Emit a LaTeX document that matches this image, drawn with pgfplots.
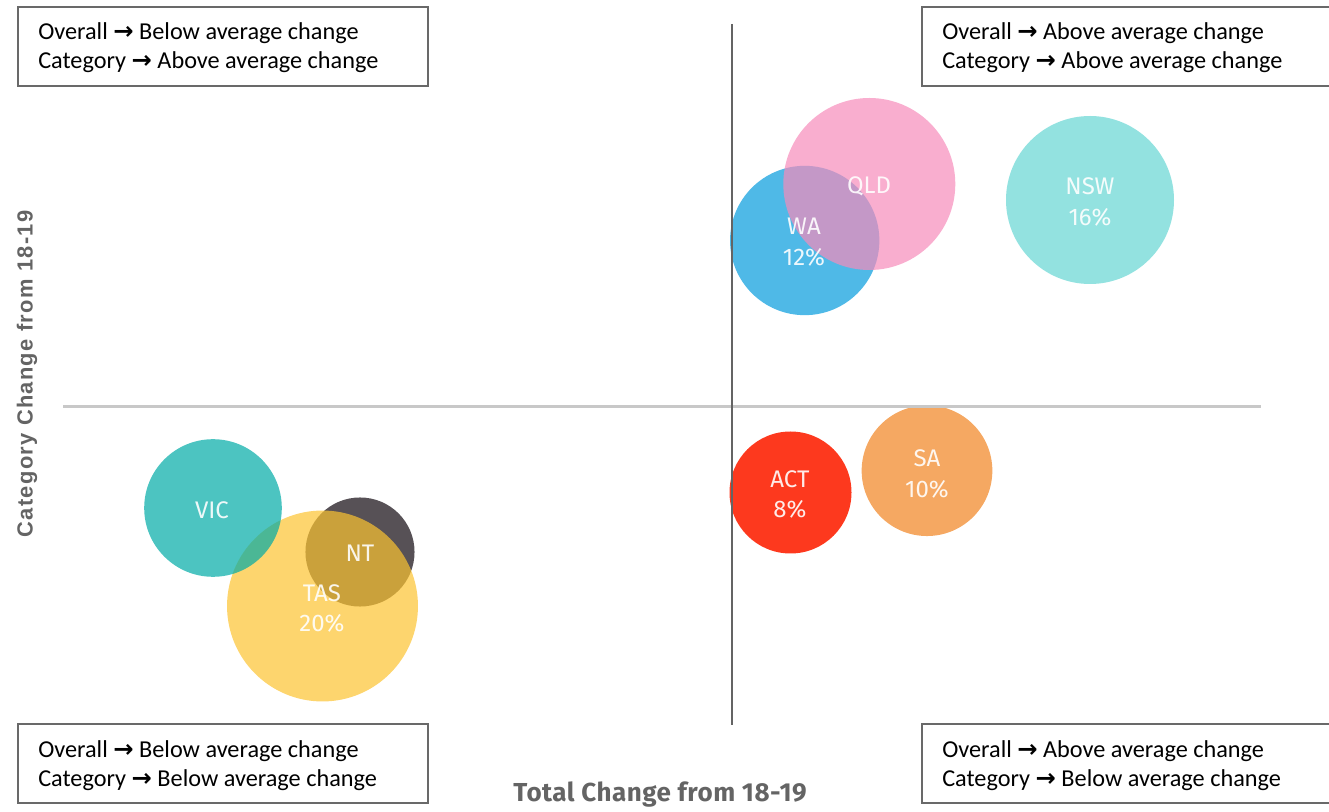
\documentclass[border=0pt]{standalone}
\usepackage{pgfplots}
\pgfplotsset{compat=1.18}
\usepackage{fontspec}
\setmainfont{Carlito}
\newfontfamily\dinfont{Fira Sans}
\newfontfamily\dinbold[LetterSpace=2]{Fira Sans}
\newfontfamily\arialfont[LetterSpace=6]{Liberation Sans}
\newfontfamily\arrowfont{DejaVu Sans}
\definecolor{ntc}{RGB}{87,81,86}
\definecolor{tasc}{RGB}{252,195,48}
\definecolor{vicc}{RGB}{0,171,166}
\definecolor{wac}{RGB}{4,155,221}
\definecolor{qldc}{RGB}{246,139,186}
\definecolor{nswc}{RGB}{147,226,224}
\definecolor{sac}{RGB}{245,168,98}
\definecolor{actc}{RGB}{253,57,30}
\definecolor{vline}{RGB}{100,100,100}
\definecolor{hline}{RGB}{200,200,200}
\definecolor{boxc}{RGB}{105,105,105}
\definecolor{labc}{RGB}{100,100,100}
\newcommand{\arr}{{\arrowfont\bfseries →}}
\begin{document}
\begin{tikzpicture}
\begin{axis}[
  x=0.75pt, y=0.75pt,
  xmin=0, xmax=1329, ymin=0, ymax=811,
  y dir=reverse,
  enlargelimits=false,
  hide axis, clip=false,
  set layers, clip marker paths=true,
]
% bubbles: (x, y) centre in chart units, mark size = bubble radius
\addplot[only marks, mark=*, mark size=40.9pt, color=ntc, mark options={draw opacity=0, fill=ntc}] coordinates {(360,552)};
\addplot[only marks, mark=*, mark size=71.6pt, color=tasc, mark options={draw opacity=0, fill=tasc, fill opacity=0.7}] coordinates {(322.5,606)};
\addplot[only marks, mark=*, mark size=51.6pt, color=vicc, mark options={draw opacity=0, fill=vicc, fill opacity=0.7}] coordinates {(213,508)};
\addplot[only marks, mark=*, mark size=56pt, color=wac, mark options={draw opacity=0, fill=wac, fill opacity=0.7}] coordinates {(804.7,240.5)};
\addplot[only marks, mark=*, mark size=64.5pt, color=qldc, mark options={draw opacity=0, fill=qldc, fill opacity=0.7}] coordinates {(869.3,184)};
\addplot[only marks, mark=*, mark size=63pt, color=nswc, mark options={draw opacity=0, fill=nswc}] coordinates {(1090,200)};
\addplot[only marks, mark=*, mark size=49pt, color=sac, mark options={draw opacity=0, fill=sac}] coordinates {(927,470.7)};
\addplot[only marks, mark=*, mark size=45.75pt, color=actc, mark options={draw opacity=0, fill=actc}] coordinates {(790.5,492.5)};
% quadrant lines
\addplot[hline, line width=2pt] coordinates {(63,406.5) (1261,406.5)};
\addplot[vline, line width=2pt] coordinates {(732,24) (732,725)};
\begin{pgfonlayer}{axis foreground}
% bubble labels
\begin{scope}[every node/.style={font=\dinfont\fontsize{18pt}{22pt}\selectfont, text=white, text opacity=0.9, inner sep=0pt, anchor=center}]
\node at (axis cs:869,186) {QLD};
\node at (axis cs:1090,186) {NSW};
\node at (axis cs:1090,217) {16\%};
\node at (axis cs:804,226) {WA};
\node at (axis cs:804,257) {12\%};
\node at (axis cs:790,479) {ACT};
\node at (axis cs:790,509) {8\%};
\node at (axis cs:927,458) {SA};
\node at (axis cs:927,489) {10\%};
\node at (axis cs:212,510) {VIC};
\node at (axis cs:360,553) {NT};
\node at (axis cs:322,593) {TAS};
\node at (axis cs:322,623) {20\%};
\end{scope}
% quadrant boxes
\draw[boxc, line width=1.5pt] (axis cs:18.3,7.5) rectangle (axis cs:428.3,86);
\draw[boxc, line width=1.5pt] (axis cs:921.7,7.5) rectangle (axis cs:1340,86);
\draw[boxc, line width=1.5pt] (axis cs:18.3,724.3) rectangle (axis cs:428.3,802.5);
\draw[boxc, line width=1.5pt] (axis cs:921.7,724) rectangle (axis cs:1340,802.5);
\begin{scope}[every node/.style={font=\fontsize{18.2pt}{22pt}\selectfont, text=black, inner sep=0pt, anchor=base west}]
\node at (axis cs:38,39.5) {Overall \arr{} Below average change};
\node at (axis cs:38,68.5) {Category \arr{} Above average change};
\node at (axis cs:942,39.5) {Overall \arr{} Above average change};
\node at (axis cs:942,68.5) {Category \arr{} Above average change};
\node at (axis cs:38,757.5) {Overall \arr{} Below average change};
\node at (axis cs:38,786.5) {Category \arr{} Below average change};
\node at (axis cs:942,757.5) {Overall \arr{} Above average change};
\node at (axis cs:942,786.5) {Category \arr{} Below average change};
\end{scope}
% axis titles
\node[font=\dinbold\bfseries\fontsize{19.5pt}{22pt}\selectfont, text=labc, inner sep=0pt, anchor=center] at (axis cs:660,795) {Total Change from 18-19};
\node[font=\arialfont\bfseries\fontsize{16.4pt}{20pt}\selectfont, text=labc, inner sep=0pt, anchor=center, rotate=90] at (axis cs:27,374) {Category Change from 18-19};
\end{pgfonlayer}
\end{axis}
\pgfresetboundingbox
\path (current axis.south west) rectangle (current axis.north east);
\end{tikzpicture}
\end{document}
